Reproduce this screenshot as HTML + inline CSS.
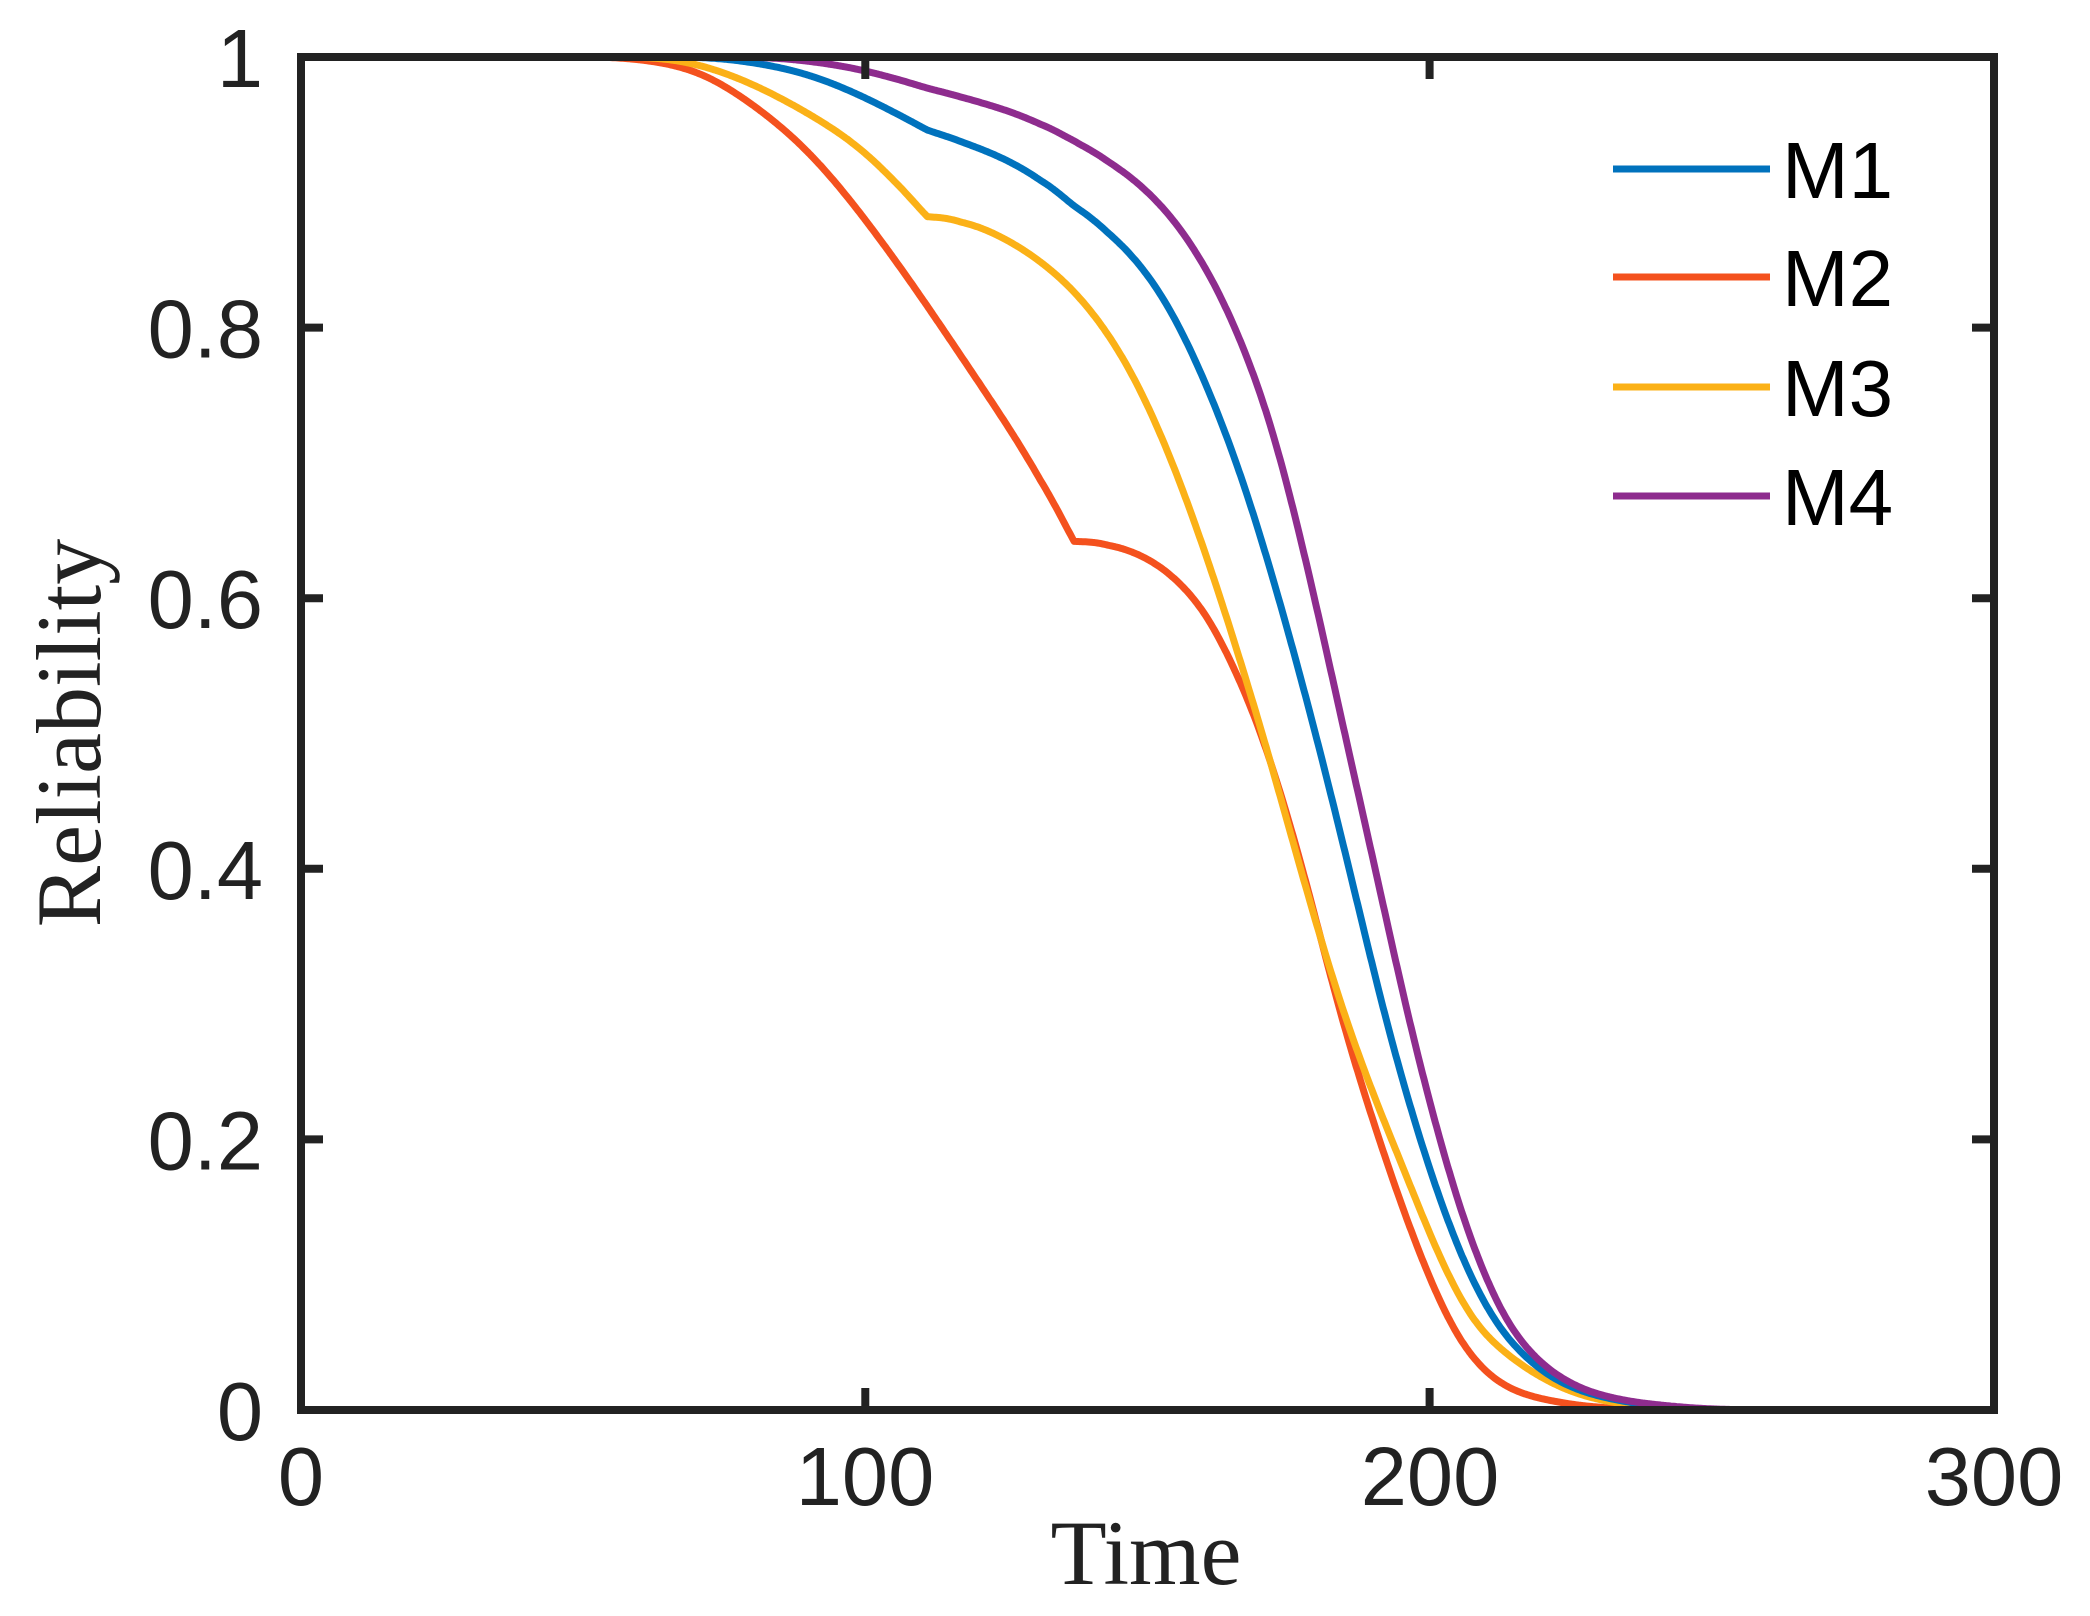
<!DOCTYPE html>
<html><head><style>html,body{margin:0;padding:0;background:#fff}svg{display:block}</style></head>
<body>
<svg id="s" width="2090" height="1616" xmlns="http://www.w3.org/2000/svg">
<rect width="2090" height="1616" fill="#fff"/>
<g id="curves" fill="none" stroke-width="7" stroke-linejoin="round" stroke-linecap="butt"></g>
<rect x="301" y="57" width="1693" height="1353" fill="none" stroke="#222" stroke-width="8"/>
<g stroke="#222" stroke-width="8" id="ticks"></g>
<g font-family="Liberation Sans, sans-serif" font-size="83" fill="#222" text-anchor="end" id="ylab"></g>
<g font-family="Liberation Sans, sans-serif" font-size="83" fill="#222" text-anchor="middle">
<text x="301" y="1505">0</text><text x="865" y="1505">100</text><text x="1430" y="1505">200</text><text x="1994" y="1505">300</text></g>
<text x="1146" y="1584" font-family="Liberation Serif, serif" font-size="92" text-anchor="middle" fill="#222">Time</text>
<text transform="translate(100,733) rotate(-90)" font-family="Liberation Serif, serif" font-size="92" text-anchor="middle" fill="#222">Reliability</text>
<g stroke-width="7">
<line x1="1613" y1="169" x2="1770" y2="169" stroke="#0072BD"/>
<line x1="1613" y1="277" x2="1770" y2="277" stroke="#F4511E"/>
<line x1="1613" y1="387" x2="1770" y2="387" stroke="#FBB117"/>
<line x1="1613" y1="496" x2="1770" y2="496" stroke="#8E2C8E"/>
</g>
<g font-family="Liberation Sans, sans-serif" font-size="80" fill="#000">
<text x="1782" y="198">M1</text><text x="1782" y="306">M2</text><text x="1782" y="416">M3</text><text x="1782" y="525">M4</text></g>
</svg>
<script>
const X=t=>301+t*5.643,Y=r=>1410-r*1353;
function mono(P){const n=P.length;if(n<3)return P;const d=[],m=[];
for(let i=0;i<n-1;i++)d.push((P[i+1][1]-P[i][1])/(P[i+1][0]-P[i][0]));
m[0]=d[0];m[n-1]=d[n-2];for(let i=1;i<n-1;i++){const h0=P[i][0]-P[i-1][0],h1=P[i+1][0]-P[i][0];m[i]=(d[i-1]*d[i]<=0)?0:(d[i-1]*h1+d[i]*h0)/(h0+h1);}
for(let i=0;i<n-1;i++){if(d[i]===0){m[i]=0;m[i+1]=0;continue;}const a=m[i]/d[i],b=m[i+1]/d[i],s=a*a+b*b;if(s>9){const t=3/Math.sqrt(s);m[i]=t*a*d[i];m[i+1]=t*b*d[i];}}
// resample uniformly at 0.25 steps
const out=[];const x0=P[0][0],xn=P[n-1][0];let j=0;
for(let x=x0;x<=xn+1e-9;x+=0.25){while(j<n-2&&x>P[j+1][0])j++;const h=P[j+1][0]-P[j][0],t=(x-P[j][0])/h,t2=t*t,t3=t2*t;
out.push([x,(2*t3-3*t2+1)*P[j][1]+(t3-2*t2+t)*h*m[j]+(-2*t3+3*t2)*P[j+1][1]+(t3-t2)*h*m[j+1]]);}
// smooth
const W=24,sm=[];for(let i=0;i<out.length;i++){const w=Math.min(W,i,out.length-1-i);let s=0;for(let k=-w;k<=w;k++)s+=out[i+k][1];sm.push([out[i][0],s/(2*w+1)]);}
return sm;}
const D={
"#F4511E":[[[0,1],[55,1],[62,0.997],[70,0.99],[80,0.965],[90,0.93],[100,0.88],[110,0.822],[120,0.76],[130,0.696],[137,0.642]],
[[137,0.642],[141.6,0.641],[147,0.636],[152.8,0.623],[158.8,0.599],[164.3,0.562],[167.8,0.525],[174.4,0.451],[181.1,0.34],[188.6,0.229],[194.8,0.155],[201.3,0.081],[208.4,0.032],[220,0.008],[230,0.002],[245,0],[255,0]]],
"#FBB117":[[[0,1],[60,1],[70,0.995],[80,0.98],[90,0.958],[100,0.93],[111,0.882]],
[[111,0.882],[116,0.88],[122,0.872],[128,0.858],[135,0.836],[141.6,0.805],[149.9,0.746],[157,0.673],[165.9,0.562],[173.8,0.451],[181.1,0.34],[190.3,0.229],[197.8,0.155],[204.9,0.081],[211,0.05],[217.3,0.03],[225,0.013],[235,0.004],[250,0],[260,0]]],
"#0072BD":[[[0,1],[70,1],[80,0.996],[90,0.987],[100,0.97],[111,0.946]],
[[111,0.946],[120,0.933],[130,0.913],[137,0.89]],
[[137,0.89],[141.6,0.876],[153.4,0.82],[161.7,0.746],[168.8,0.665],[175.8,0.562],[182.9,0.451],[189.1,0.34],[195.6,0.235],[201.8,0.155],[208.4,0.085],[215.5,0.044],[222,0.022],[230,0.01],[240,0.003],[260,0],[270,0]]],
"#8E2C8E":[[[0,1],[80,1],[90,0.997],[100,0.99],[111,0.977]],
[[111,0.977],[120,0.967],[130,0.953],[137,0.938]],
[[137,0.938],[145,0.918],[152.8,0.89],[160,0.848],[168.2,0.775],[175.8,0.673],[181.1,0.57],[187.7,0.451],[193.5,0.34],[199.3,0.235],[204.9,0.155],[210.7,0.085],[215,0.055],[221.3,0.028],[230,0.011],[240,0.004],[260,0],[270,0]]]};
let h="";for(const c in D){let pts=[];for(const seg of D[c])pts=pts.concat(mono(seg));
pts=pts.filter(p=>p[0]<=(c=="#F4511E"?245:c=="#FBB117"?250:260));
h+=`<polyline stroke="${c}" points="${pts.map(p=>X(p[0]).toFixed(1)+","+Y(Math.max(0,p[1])).toFixed(1)).join(" ")}"/>`;}
document.getElementById("curves").innerHTML=h;
let t="";for(const v of [100,200]){const x=X(v);t+=`<line x1="${x}" y1="1410" x2="${x}" y2="1388"/><line x1="${x}" y1="57" x2="${x}" y2="79"/>`;}
let yl="";for(let i=0;i<=5;i++){const r=i*0.2,y=Y(r);if(i>0&&i<5)t+=`<line x1="301" y1="${y}" x2="323" y2="${y}"/><line x1="1994" y1="${y}" x2="1972" y2="${y}"/>`;
yl+=`<text x="263" y="${y+30}">${i==0?"0":i==5?"1":r.toFixed(1)}</text>`;}
document.getElementById("ticks").innerHTML=t;document.getElementById("ylab").innerHTML=yl;
</script>
</body></html>
